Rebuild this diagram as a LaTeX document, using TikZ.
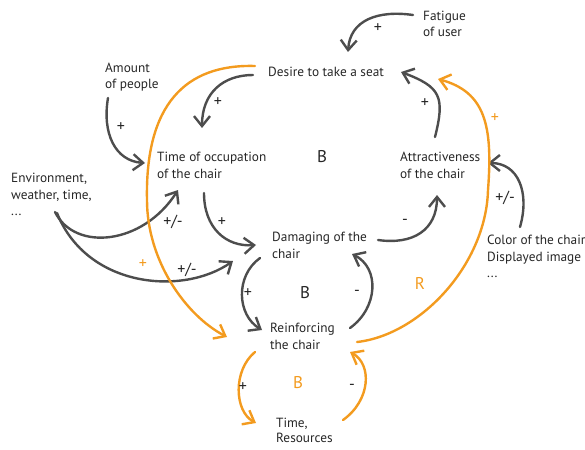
\documentclass[tikz,border=0pt]{standalone}
\usepackage{fontspec}
\setmainfont{PT Sans}
\usepackage{xcolor}
\usetikzlibrary{arrows.meta}
\definecolor{linkgray}{HTML}{4D4D4D}
\definecolor{looporange}{HTML}{F39B1F}

\begin{document}
\begin{tikzpicture}[x=1pt,y=-1pt,
  factor/.style={inner sep=0pt, anchor=base west, align=left, text=black!85,
    font=\fontsize{13.3}{16.5}\selectfont},
  link/.style={draw=linkgray, line width=2.4pt, line cap=round,
    -{Straight Barb[length=10pt,width=16pt]}},
  olink/.style={link, draw=looporange},
  sign/.style={inner sep=0pt, text=black!85, font=\fontsize{16}{18}\selectfont},
  loopname/.style={inner sep=0pt, text=black!85, font=\fontsize{17}{19}\selectfont}]
\useasboundingbox (0,0) rectangle (585,449);

% factors (placed at the baseline of their last line)
\node[factor] (fatigue) at (423,37) {Fatigue\\of user};
\node[factor] (desire) at (268,76.5) {Desire to take a seat};
\node[factor] (amount) at (105,89) {Amount\\of people};
\node[factor] (occupation) at (157,178) {Time of occupation\\of the chair};
\node[factor] (attract) at (400,178) {Attractiveness\\of the chair};
\node[factor] (environment) at (11,215.5) {Environment,\\weather, time,\\...};
\node[factor] (damaging) at (272,258) {Damaging of the\\chair};
\node[factor] (color) at (487,277.5) {Color of the chair\\Displayed image\\...};
\node[factor] (reinforcing) at (270,349) {Reinforcing\\the chair};
\node[factor, font=\fontsize{13.3}{15}\selectfont] (resources) at (276,442.5) {Time,\\Resources};

% loop names
\node[loopname] (bmain) at (322,157) {B};
\node[loopname] (brepair) at (305,293) {B};
\node[loopname, text=looporange] (rloop) at (420,283) {R};
\node[loopname, text=looporange] (bcost) at (298,383) {B};

% gray links
\draw[link] ([shift={(-10,-22)}]fatigue.base west) .. controls +(-35,-5) and +(2,-32) .. ([shift={(80,-24.5)}]desire.base west);
\draw[link] ([shift={(-15,-1.5)}]desire.base west) .. controls +(-30,0) and +(0,-35) .. ([shift={(45,-50)}]occupation.base west);
\draw[link] ([shift={(3,9)}]amount.base west) .. controls +(-6,35) and +(-30,-2) .. ([shift={(-12,-15)}]occupation.base west);
\draw[link] ([shift={(44,-3.5)}]environment.base west) .. controls +(20,40) and +(-35,55) .. ([shift={(21,12)}]occupation.base west);
\draw[link] ([shift={(46,-2.5)}]environment.base west) .. controls +(30,75) and +(-50,35) .. ([shift={(-39,3)}]damaging.base west);
\draw[link] ([shift={(47,15)}]occupation.base west) .. controls +(0,35) and +(-30,2) .. ([shift={(-16,-13)}]damaging.base west);
\draw[link] ([shift={(-12,0)}]damaging.base west) .. controls +(-25,18) and +(-25,-15) .. ([shift={(-8,-19)}]reinforcing.base west);
\draw[link] ([shift={(80,-21)}]reinforcing.base west) .. controls +(28,-20) and +(28,14) .. ([shift={(80,-4)}]damaging.base west);
\draw[link] ([shift={(106,-18)}]damaging.base west) .. controls +(35,5) and +(0,35) .. ([shift={(37,17)}]attract.base west);
\draw[link] ([shift={(35,-41)}]attract.base west) .. controls +(10,-40) and +(40,15) .. ([shift={(133,-4.5)}]desire.base west);
\draw[link] ([shift={(33,-50.5)}]color.base west) .. controls +(10,-35) and +(30,0) .. ([shift={(88,-15)}]attract.base west);

% orange links
\draw[olink] ([shift={(-13,-10.5)}]desire.base west) .. controls +(-70,-2) and +(-2,-95) .. (147,200)
  .. controls +(0,60) and +(-42,-22) .. ([shift={(-43,-12)}]reinforcing.base west);
\draw[olink] ([shift={(87,-7)}]reinforcing.base west) .. controls +(63,-7) and +(-2,75) .. (488,190)
  .. controls +(5,-65) and +(47,13) .. ([shift={(170,2.5)}]desire.base west);
\draw[olink] ([shift={(-15,3)}]reinforcing.base west) .. controls +(-22,18) and +(-22,-12) .. ([shift={(-20,-19.5)}]resources.base west);
\draw[olink] ([shift={(67,-22.5)}]resources.base west) .. controls +(28,-20) and +(22,12) .. ([shift={(80,3)}]reinforcing.base west);

% polarities
\node[sign] (pfatigue) at (378,28) {+};
\node[sign] (pdesire) at (218,102) {+};
\node[sign] (pamount) at (121,127) {+};
\node[sign] (pattract) at (425,103) {+};
\node[sign, text=looporange] (prloop) at (495,118) {+};
\node[sign] (penvtime) at (173,222) {+/-};
\node[sign] (poccup) at (222,222) {+};
\node[sign] (pdamage) at (405,222) {-};
\node[sign] (pcolor) at (505,198) {+/-};
\node[sign, text=looporange] (pdesrein) at (143,264) {+};
\node[sign] (penvdam) at (187,270) {+/-};
\node[sign] (pdamrein) at (248,293) {+};
\node[sign] (preindam) at (357,293) {-};
\node[sign] (preinres) at (243,387) {+};
\node[sign] (presrein) at (352,387) {-};
\end{tikzpicture}
\end{document}
